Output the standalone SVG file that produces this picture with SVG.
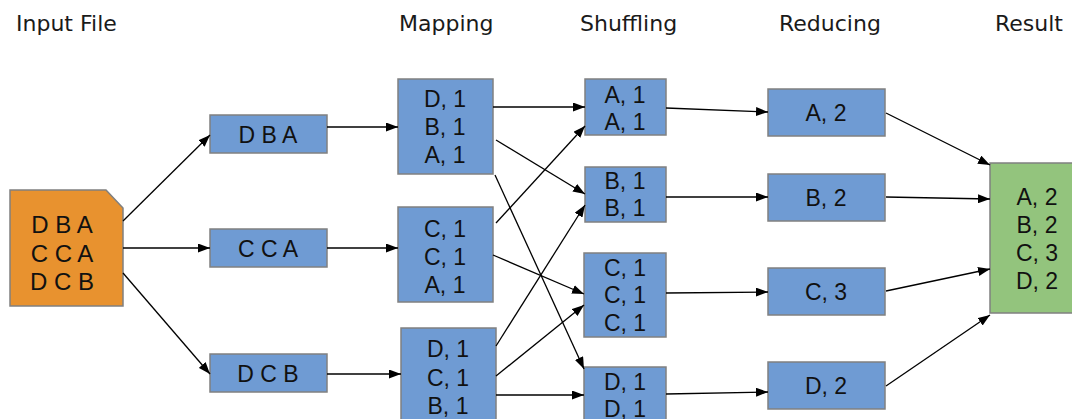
<svg xmlns="http://www.w3.org/2000/svg" width="1072" height="419" viewBox="0 0 1072 419">
<defs>
<marker id="ah" viewBox="0 0 12 9" refX="12" refY="4.5" markerWidth="12" markerHeight="9" markerUnits="userSpaceOnUse" orient="auto">
<path d="M0,0 L12,4.5 L0,9 z" fill="#000"/>
</marker>
<style>
.hdr{font-family:"DejaVu Sans",Verdana,sans-serif;font-size:22px;fill:#1a1a1a}
.t{font-family:"Liberation Sans",Arial,sans-serif;font-size:23px;fill:#111;text-anchor:middle}
.ti{font-family:"Liberation Sans",Arial,sans-serif;font-size:24px;fill:#111;text-anchor:middle}
.b{fill:#6f9bd3;stroke:#808080;stroke-width:1.5}
.o{fill:#e8922f;stroke:#808080;stroke-width:1.5}
.g{fill:#93c47d;stroke:#808080;stroke-width:1.5}
.c line{stroke:#000;stroke-width:1.3;marker-end:url(#ah)}
</style>
</defs>
<rect width="1072" height="419" fill="#fff"/>
<g id="headers">
<text class="hdr" x="16" y="31">Input File</text>
<text class="hdr" x="399" y="31">Mapping</text>
<text class="hdr" x="580" y="31">Shuffling</text>
<text class="hdr" x="779" y="31">Reducing</text>
<text class="hdr" x="995" y="31">Result</text>
</g>
<g id="input">
<polygon class="o" points="10,190 106,190 123,208 123,306 10,306"/>
<text class="ti" x="62" y="233">D B A</text>
<text class="ti" x="62" y="262">C C A</text>
<text class="ti" x="62" y="290">D C B</text>
</g>
<g id="split1"><rect class="b" x="210" y="115" width="117" height="38"/><text class="t" x="268" y="143">D B A</text></g>
<g id="split2"><rect class="b" x="210" y="229" width="117" height="38"/><text class="t" x="268" y="257">C C A</text></g>
<g id="split3"><rect class="b" x="210" y="354" width="117" height="38"/><text class="t" x="268" y="382">D C B</text></g>
<g id="map1"><rect class="b" x="398" y="79" width="95" height="95"/>
<text class="t" x="445" y="107">D, 1</text><text class="t" x="445" y="135">B, 1</text><text class="t" x="445" y="163">A, 1</text></g>
<g id="map2"><rect class="b" x="398" y="207" width="95" height="95"/>
<text class="t" x="445" y="237">C, 1</text><text class="t" x="445" y="265">C, 1</text><text class="t" x="445" y="293">A, 1</text></g>
<g id="map3"><rect class="b" x="401" y="328" width="95" height="95"/>
<text class="t" x="448" y="357">D, 1</text><text class="t" x="448" y="386">C, 1</text><text class="t" x="448" y="414">B, 1</text></g>
<g id="shufA"><rect class="b" x="585" y="79" width="81" height="56"/>
<text class="t" x="625" y="103">A, 1</text><text class="t" x="625" y="130">A, 1</text></g>
<g id="shufB"><rect class="b" x="585" y="167" width="81" height="55"/>
<text class="t" x="625" y="189">B, 1</text><text class="t" x="625" y="216">B, 1</text></g>
<g id="shufC"><rect class="b" x="584" y="253" width="82" height="84"/>
<text class="t" x="625" y="276">C, 1</text><text class="t" x="625" y="303">C, 1</text><text class="t" x="625" y="331">C, 1</text></g>
<g id="shufD"><rect class="b" x="584" y="367" width="82" height="60"/>
<text class="t" x="625" y="390">D, 1</text><text class="t" x="625" y="417">D, 1</text></g>
<g id="redA"><rect class="b" x="768" y="89" width="117" height="47"/><text class="t" x="826" y="121">A, 2</text></g>
<g id="redB"><rect class="b" x="768" y="174" width="117" height="47"/><text class="t" x="826" y="206">B, 2</text></g>
<g id="redC"><rect class="b" x="768" y="268" width="117" height="47"/><text class="t" x="826" y="300">C, 3</text></g>
<g id="redD"><rect class="b" x="768" y="362" width="117" height="47"/><text class="t" x="826" y="394">D, 2</text></g>
<g id="result"><rect class="g" x="990" y="163" width="86" height="150"/>
<text class="t" x="1037" y="205">A, 2</text><text class="t" x="1037" y="233">B, 2</text><text class="t" x="1037" y="261">C, 3</text><text class="t" x="1037" y="289">D, 2</text></g>
<g id="connectors" class="c">
<line x1="123" y1="221" x2="210" y2="135"/>
<line x1="123" y1="248" x2="210" y2="248"/>
<line x1="123" y1="273" x2="210" y2="374"/>
<line x1="327" y1="127" x2="398" y2="127"/>
<line x1="327" y1="248" x2="398" y2="248"/>
<line x1="327" y1="374" x2="401" y2="374"/>
<line x1="493" y1="107" x2="585" y2="107"/>
<line x1="496" y1="140" x2="585" y2="194"/>
<line x1="495" y1="175" x2="584" y2="369"/>
<line x1="496" y1="223" x2="585" y2="126"/>
<line x1="493" y1="255" x2="584" y2="294"/>
<line x1="496" y1="346" x2="585" y2="205"/>
<line x1="496" y1="376" x2="584" y2="305"/>
<line x1="496" y1="395" x2="584" y2="395"/>
<line x1="666" y1="108" x2="768" y2="112"/>
<line x1="666" y1="197" x2="768" y2="197"/>
<line x1="666" y1="293" x2="768" y2="292"/>
<line x1="666" y1="394" x2="768" y2="392"/>
<line x1="886" y1="113" x2="990" y2="165"/>
<line x1="886" y1="197" x2="990" y2="199"/>
<line x1="886" y1="291" x2="990" y2="269"/>
<line x1="886" y1="386" x2="990" y2="315"/>
</g>
</svg>
